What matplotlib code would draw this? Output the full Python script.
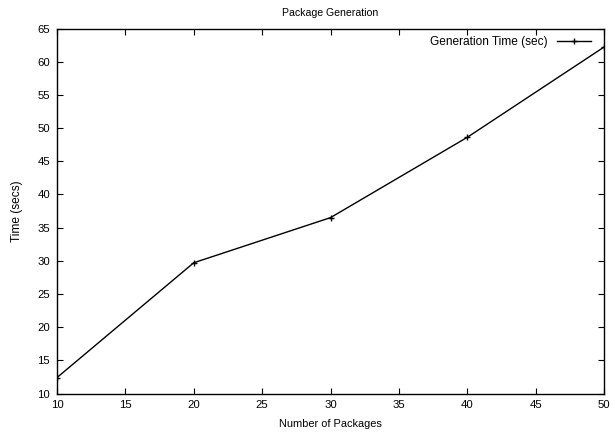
import matplotlib
matplotlib.use("Agg")
import matplotlib.pyplot as plt

packages = [10, 20, 30, 40, 50]
gen_time = [12.4, 29.7, 36.5, 48.6, 62.2]
x_ticks = [10, 15, 20, 25, 30, 35, 40, 45, 50]
y_ticks = [10, 15, 20, 25, 30, 35, 40, 45, 50, 55, 60, 65]

plt.rcParams['font.family'] = ['Liberation Sans', 'DejaVu Sans']
plt.rcParams['font.size'] = 8.2

fig = plt.figure(figsize=(6.13, 4.32), dpi=100)
W, H = 613, 432
left, right, top, bottom = 57, 604, 28.5, 393.5
ax = fig.add_axes([left / W, 1 - bottom / H, (right - left) / W, (bottom - top) / H])

ax.plot(packages, gen_time, color='black', lw=1.0, marker='+', ms=5, mew=1.0,
        label='Generation Time (sec)')
ax.set_xlim(10, 50)
ax.set_ylim(10, 65)
ax.set_xticks(x_ticks)
ax.set_yticks(y_ticks)
ax.tick_params(direction='in', length=4.5, width=0.8, top=True, right=True,
               pad=5, labelsize=8.2)
for s in ax.spines.values():
    s.set_linewidth(1.0)

ax.set_title('Package Generation', fontsize=7.6, pad=9)
ax.set_xlabel('Number of Packages', fontsize=7.9, labelpad=6.5)
ax.set_ylabel('Time (secs)', fontsize=8.6, labelpad=10.5)

ax.legend(loc='upper right', frameon=False, markerfirst=False, handlelength=2.85,
          handletextpad=0.8, borderpad=0, borderaxespad=0, fontsize=8.6,
          bbox_to_anchor=((591 - left) / (right - left), 1 - 8 / (bottom - top)))

fig.savefig('out.png', dpi=100)
